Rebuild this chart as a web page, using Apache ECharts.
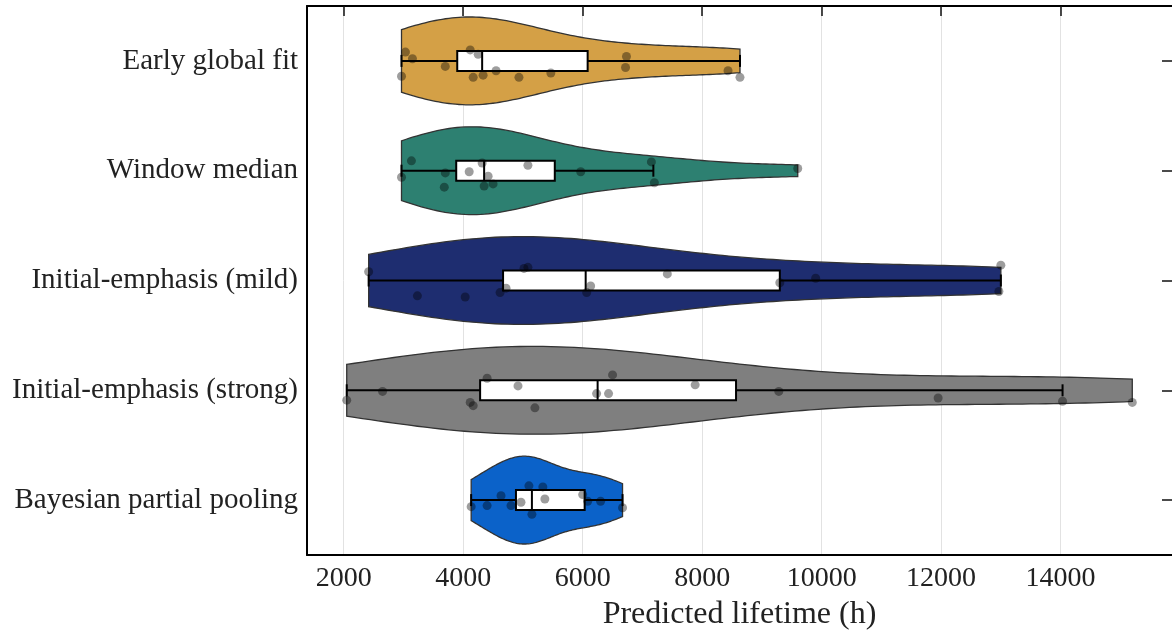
<!DOCTYPE html>
<html>
<head>
<meta charset="utf-8">
<script src="https://cdn.jsdelivr.net/npm/echarts@6/dist/echarts.min.js"></script>
<style>
  html, body { margin: 0; padding: 0; background: #fff; }
  #main { width: 1172px; height: 637px; }
</style>
</head>
<body>
<div id="main"></div>
<script>
// categories top to bottom
const categories = ['Early global fit', 'Window median', 'Initial-emphasis (mild)', 'Initial-emphasis (strong)', 'Bayesian partial pooling'];
const xTicks = [2000, 4000, 6000, 8000, 10000, 12000, 14000];

// predicted lifetimes (h) per method
const earlyFit = [3033, 3150, 2967, 3700, 4117, 4250, 4167, 4333, 4550, 4933, 5467, 6733, 6717, 8433, 8633];
const windowMedian = [3133, 2967, 3700, 3683, 4100, 4317, 4417, 4350, 4500, 5083, 5967, 7150, 7200, 9600];
const emphasisMild = [2417, 3233, 4033, 4617, 4717, 5017, 5083, 6067, 6133, 7417, 9300, 9900, 13000, 12967];
const emphasisStrong = [2050, 2650, 4400, 4917, 4117, 4167, 5200, 6233, 6433, 6500, 7883, 9283, 11950, 14033, 15200];
const bayesPooling = [4133, 4400, 4633, 4800, 4967, 5100, 5150, 5333, 5367, 6000, 6083, 6300, 6667];

// vertical jitter of each point (fraction of a row)
const earlyFitJitter = [-0.08, -0.02, 0.14, 0.05, -0.10, -0.06, 0.15, 0.13, 0.09, 0.15, 0.11, -0.04, 0.06, 0.09, 0.15];
const windowMedianJitter = [-0.09, 0.06, 0.02, 0.15, 0.01, -0.07, 0.05, 0.14, 0.12, -0.05, 0.01, -0.08, 0.11, -0.02];
const emphasisMildJitter = [-0.08, 0.14, 0.15, 0.11, 0.07, -0.11, -0.12, 0.11, 0.05, -0.06, 0.02, -0.02, -0.14, 0.10];
const emphasisStrongJitter = [0.09, 0.01, -0.11, -0.04, 0.11, 0.14, 0.16, 0.03, 0.03, -0.14, -0.05, 0.01, 0.07, 0.10, 0.11];
const bayesPoolingJitter = [0.06, 0.05, -0.04, 0.05, 0.02, -0.13, 0.13, -0.12, -0.01, -0.05, 0.01, 0.01, 0.07];

// box stats [whisker low, Q1, median, Q3, whisker high]
const boxStats = [
  [2967, 3900, 4317, 6083, 8633],
  [2967, 3883, 4350, 5533, 7183],
  [2417, 4667, 6050, 9300, 13000],
  [2050, 4283, 6250, 8567, 14033],
  [4133, 4883, 5150, 6033, 6667]
];

const colors = ['#d4a046', '#2d8071', '#1e2d70', '#7f7f7f', '#0b62c9'];

const groups = [earlyFit, windowMedian, emphasisMild, emphasisStrong, bayesPooling];
const jitters = [earlyFitJitter, windowMedianJitter, emphasisMildJitter, emphasisStrongJitter, bayesPoolingJitter];

// gaussian kde, scott bandwidth, cut at data range
function kdeProfile(vals) {
  let n = vals.length;
  let mean = vals.reduce((a, b) => a + b, 0) / n;
  let sd = Math.sqrt(vals.reduce((a, b) => a + (b - mean) * (b - mean), 0) / (n - 1));
  let bw = sd * Math.pow(n, -0.2);
  let lo = Math.min.apply(null, vals), hi = Math.max.apply(null, vals);
  let out = [];
  for (let k = 0; k <= 100; k++) {
    let x = lo + (hi - lo) * k / 100;
    let d = 0;
    vals.forEach(v => { d += Math.exp(-0.5 * Math.pow((x - v) / bw, 2)); });
    out.push([x, d]);
  }
  let dmax = Math.max.apply(null, out.map(p => p[1]));
  return out.map(p => [p[0], p[1] / dmax]);
}
const profiles = groups.map(kdeProfile);

const serif = 'Liberation Serif';
let chart = echarts.init(document.getElementById('main'));

let option = {
  animation: false,
  grid: { left: 307, right: -4, top: 6, bottom: 82 },
  xAxis: [
    {
      type: 'value', min: 1385, max: 15865,
      name: 'Predicted lifetime (h)', nameLocation: 'middle', nameGap: 44,
      nameTextStyle: { fontFamily: serif, fontSize: 32, color: '#222' },
      axisLine: { show: true, onZero: false, lineStyle: { color: '#000', width: 2 } },
      axisTick: { show: false, customValues: xTicks },
      axisLabel: {
        customValues: xTicks, fontFamily: serif, fontSize: 28, color: '#222', margin: 10,
        formatter: v => String(v)
      },
      splitLine: { show: true, lineStyle: { color: '#e2e2e2', width: 1 } }
    },
    {
      type: 'value', min: 1385, max: 15865, position: 'top',
      axisLine: { show: true, onZero: false, lineStyle: { color: '#000', width: 2 } },
      axisTick: { show: true, inside: true, length: 10, customValues: xTicks, lineStyle: { color: '#111', width: 1.5 } },
      axisLabel: { show: false },
      splitLine: { show: false }
    }
  ],
  yAxis: [
    {
      type: 'category', data: categories, inverse: true,
      axisLine: { show: true, onZero: false, lineStyle: { color: '#000', width: 2 } },
      axisTick: { show: false },
      axisLabel: { fontFamily: serif, fontSize: 29, color: '#222', margin: 9 },
      splitLine: { show: false }
    },
    {
      type: 'category', data: categories, inverse: true, position: 'right',
      axisLine: { show: false },
      axisTick: { show: true, inside: true, alignWithLabel: true, length: 10, lineStyle: { color: '#111', width: 1.5 } },
      axisLabel: { show: false }
    },
    {
      type: 'value', min: -0.5, max: 4.5, inverse: true, show: false
    }
  ],
  series: [
    {
      type: 'custom',
      yAxisIndex: 2,
      z: 2,
      data: categories.map((c, i) => [boxStats[i][0], i]),
      renderItem: function (params, api) {
        let i = params.dataIndex;
        let prof = profiles[i];
        let top = prof.map(p => api.coord([p[0], i - 0.4 * p[1]]));
        let bot = prof.slice().reverse().map(p => api.coord([p[0], i + 0.4 * p[1]]));
        return {
          type: 'polygon',
          shape: { points: top.concat(bot) },
          style: { fill: colors[i], stroke: '#333', lineWidth: 1.3 }
        };
      }
    },
    {
      type: 'custom',
      yAxisIndex: 2,
      z: 3,
      data: boxStats.map((b, i) => [i].concat(b)),
      renderItem: function (params, api) {
        let i = params.dataIndex;
        let b = boxStats[i];
        let pLo = api.coord([b[0], i]), pQ1 = api.coord([b[1], i]), pMed = api.coord([b[2], i]);
        let pQ3 = api.coord([b[3], i]), pHi = api.coord([b[4], i]);
        let y = pMed[1], h = 10, c = 6;
        let line = (x1, y1, x2, y2) => ({
          type: 'line', shape: { x1: x1, y1: y1, x2: x2, y2: y2 },
          style: { stroke: '#000', lineWidth: 2 }
        });
        return {
          type: 'group',
          children: [
            line(pLo[0], y, pQ1[0], y),
            line(pQ3[0], y, pHi[0], y),
            line(pLo[0], y - c, pLo[0], y + c),
            line(pHi[0], y - c, pHi[0], y + c),
            {
              type: 'rect',
              shape: { x: pQ1[0], y: y - h, width: pQ3[0] - pQ1[0], height: 2 * h },
              style: { fill: '#fff', stroke: '#000', lineWidth: 2 }
            },
            line(pMed[0], y - h, pMed[0], y + h)
          ]
        };
      }
    },
    {
      type: 'scatter',
      yAxisIndex: 2,
      z: 4,
      symbolSize: 9,
      itemStyle: { color: 'rgba(0,0,0,0.48)' },
      data: [].concat.apply([], groups.map((g, i) => g.map((v, k) => [v, i + jitters[i][k]])))
    }
  ]
};

chart.setOption(option);
</script>
</body>
</html>
